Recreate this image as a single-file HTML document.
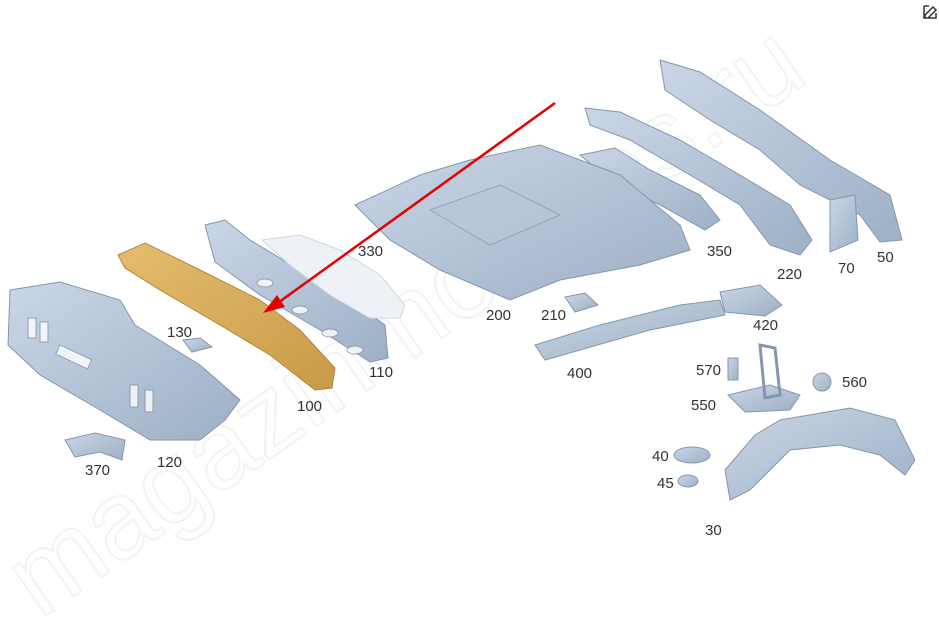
<!DOCTYPE html>
<html style="overflow:hidden"><head><style>
html,body{margin:0;background:#fff;width:939px;height:626px;overflow:hidden;font-family:"Liberation Sans",sans-serif}
svg{position:absolute;left:0;top:0;overflow:hidden}
</style></head><body>
<svg width="939" height="626" viewBox="0 0 939 626">
<defs>
<linearGradient id="g" x1="0" y1="0" x2="1" y2="1"><stop offset="0" stop-color="#c9d6e6"/><stop offset="1" stop-color="#9eb0c6"/></linearGradient>
<linearGradient id="o" x1="0" y1="0" x2="1" y2="1"><stop offset="0" stop-color="#e4bd6c"/><stop offset="1" stop-color="#c99a48"/></linearGradient>
</defs>
<g font-size="110" fill="none" stroke="#f3f3f3" stroke-width="2" font-family="Liberation Sans">
<text x="40" y="620" transform="rotate(-35 40 620)">magazinmotores.ru</text>
</g>
<g fill="url(#g)" stroke="#8596ad" stroke-width="1">
<polygon points="660,60 700,72 760,110 830,160 890,195 902,240 880,242 860,215 800,185 760,150 710,120 665,90"/>
<polygon points="830,200 855,195 858,240 830,252"/>
<polygon points="585,108 620,112 680,140 740,175 790,205 812,240 800,255 770,245 740,205 690,175 630,140 590,125"/>
<polygon points="580,155 615,148 650,170 700,195 720,220 705,230 660,205 610,180"/>
<polygon points="355,205 420,175 470,160 540,145 620,175 680,225 690,250 640,265 560,280 510,300 440,270 390,240"/>
<polygon points="565,297 585,293 598,305 575,312"/>
<polygon points="535,345 600,325 680,305 720,300 725,315 650,330 580,350 545,360"/>
<polygon points="720,292 760,285 782,305 765,316 725,312"/>
<polygon points="205,225 225,220 250,240 300,270 350,300 385,325 388,358 370,362 320,330 260,295 215,262"/>
<polygon points="10,290 60,282 120,300 135,325 200,365 240,400 225,420 200,440 150,440 100,410 40,375 8,345"/>
<polygon points="65,440 95,433 125,440 122,460 100,452 75,457"/>
<polygon points="183,340 200,338 212,347 192,352"/>
<polygon points="780,420 850,408 895,420 915,460 905,475 880,455 840,445 790,450 750,490 730,500 725,470 755,435"/>
<ellipse cx="692" cy="455" rx="18" ry="8"/>
<ellipse cx="688" cy="481" rx="10" ry="6"/>
<polygon points="728,395 770,385 800,395 790,410 745,412"/>
<polygon points="760,345 775,348 780,395 765,398" fill="none" stroke-width="3"/>
<rect x="728" y="358" width="10" height="22"/>
<circle cx="822" cy="382" r="9"/>
</g>
<g fill="#fff" stroke="#8596ad" opacity="0.8">
<rect x="28" y="318" width="8" height="20"/><rect x="40" y="322" width="8" height="20"/>
<rect x="60" y="345" width="35" height="10" transform="rotate(25 60 345)"/>
<rect x="130" y="385" width="8" height="22"/><rect x="145" y="390" width="8" height="22"/>
<ellipse cx="265" cy="283" rx="8" ry="4"/><ellipse cx="300" cy="310" rx="8" ry="4"/><ellipse cx="330" cy="333" rx="8" ry="4"/><ellipse cx="355" cy="350" rx="8" ry="4"/>
</g>
<polygon points="430,210 500,185 560,215 490,245" fill="#b7c7da" stroke="#8596ad" opacity="0.7"/>
<polygon points="262,240 300,235 340,250 380,275 405,305 400,318 370,318 330,295 290,265" fill="#eef2f6" stroke="#d0d8e2"/>
<polygon points="118,255 145,243 200,270 260,300 300,330 335,368 332,388 315,390 270,355 220,325 160,290 125,268" fill="url(#o)" stroke="#b08640"/>
<line x1="555" y1="103" x2="275" y2="305" stroke="#e60000" stroke-width="2.5"/>
<polygon points="263,313 277,295 285,307" fill="#e60000"/>
<g font-size="15" fill="#333">
<text x="877" y="262">50</text><text x="838" y="273">70</text><text x="777" y="279">220</text>
<text x="707" y="256">350</text><text x="358" y="256">330</text><text x="486" y="320">200</text>
<text x="541" y="320">210</text><text x="753" y="330">420</text><text x="567" y="378">400</text>
<text x="167" y="337">130</text><text x="369" y="377">110</text><text x="297" y="411">100</text>
<text x="157" y="467">120</text><text x="85" y="475">370</text>
<text x="696" y="375">570</text><text x="842" y="387">560</text><text x="691" y="410">550</text>
<text x="652" y="461">40</text><text x="657" y="488">45</text><text x="705" y="535">30</text>
</g>
<path d="M925 15 l8 -8 3 3 -8 8 h-3z M924 6 h5 M924 6 v12 h12 v-5" stroke="#333" stroke-width="1.5" fill="none"/>
</svg>
</body></html>
